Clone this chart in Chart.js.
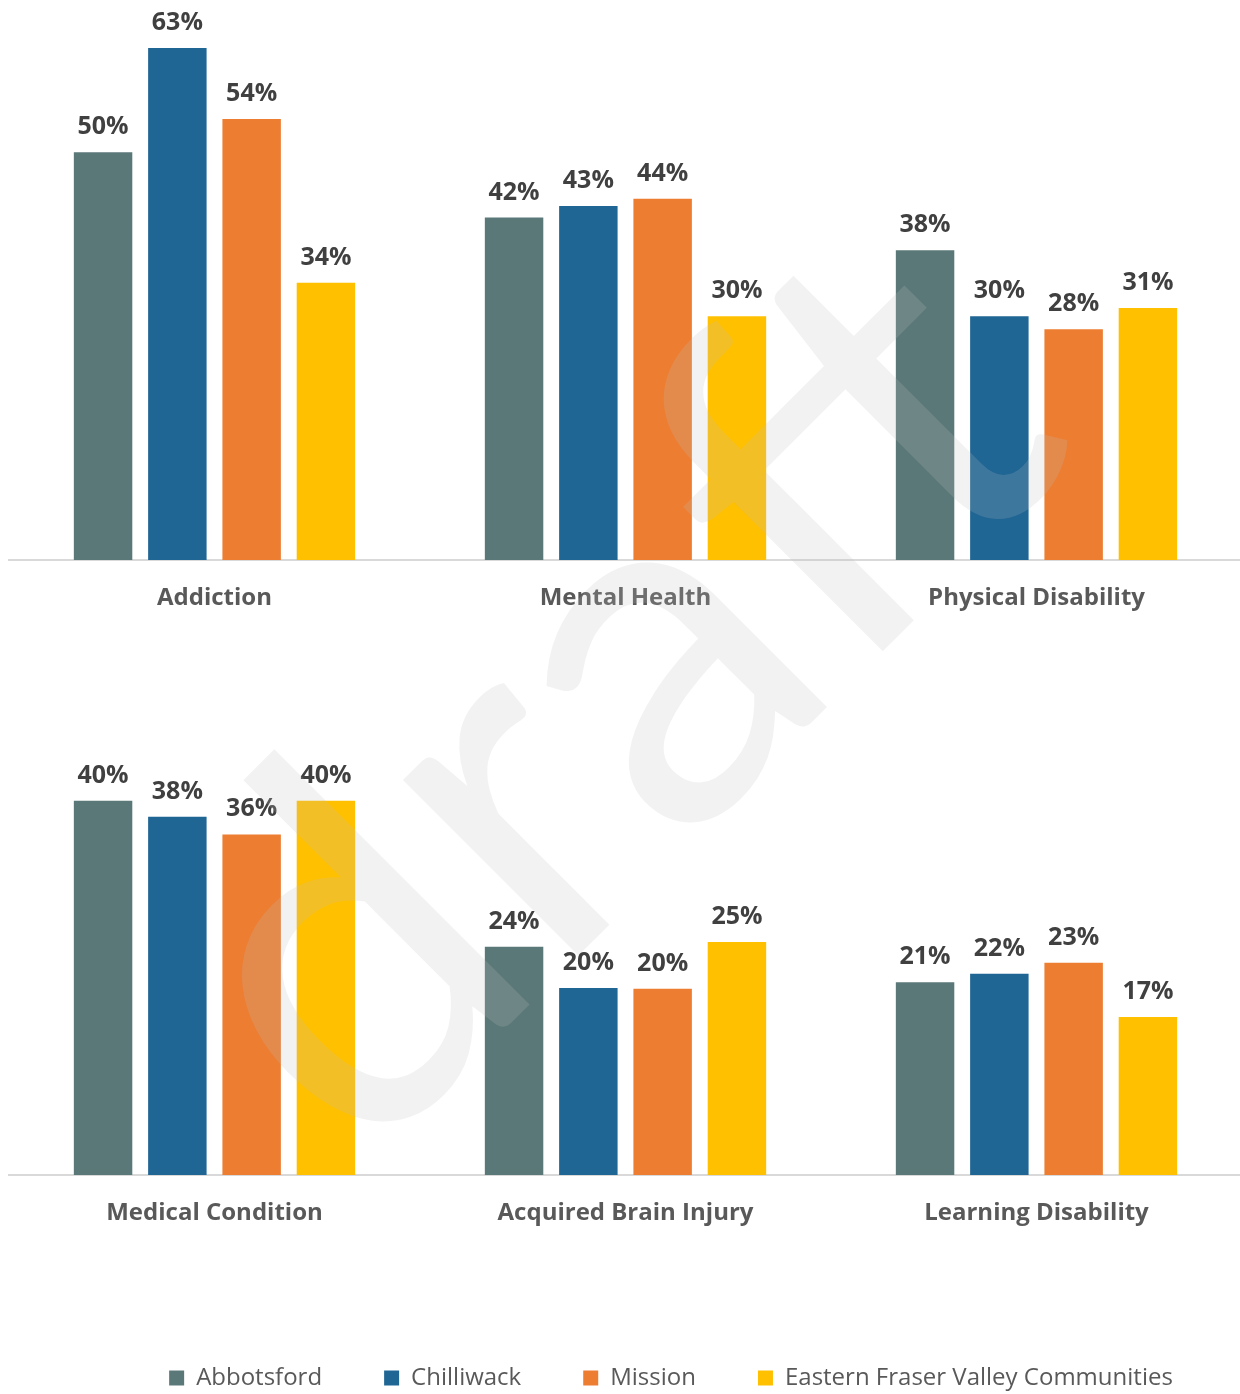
<!DOCTYPE html>
<html><head><meta charset="utf-8">
<script src="https://cdn.jsdelivr.net/npm/chart.js@4.4.1/dist/chart.umd.min.js"></script>
<style>
html,body{margin:0;padding:0;background:#fff;overflow:hidden;width:1240px;height:1394px;}
#top{position:absolute;left:0;top:0;width:1250px;height:640px;}
#bot{position:absolute;left:0;top:650px;width:1340px;height:750px;}
#wm{position:absolute;left:0;top:0;pointer-events:none;}
</style></head><body>
<div id="top"><canvas id="c1"></canvas></div>
<div id="bot"><canvas id="c2"></canvas></div>
<canvas id="wm" width="1240" height="1394"></canvas>
<script>
const seriesNames = ['Abbotsford', 'Chilliwack', 'Mission', 'Eastern Fraser Valley Communities'];
const topCategories = ['Addiction', 'Mental Health', 'Physical Disability'];
const bottomCategories = ['Medical Condition', 'Acquired Brain Injury', 'Learning Disability'];
const abbotsfordTop = [50.0, 42.0, 38.0];
const chilliwackTop = [62.8, 43.4, 29.9];
const missionTop = [54.1, 44.3, 28.3];
const efvTop = [34.0, 29.9, 30.9];
const abbotsfordBottom = [40.0, 24.4, 20.6];
const chilliwackBottom = [38.3, 20.0, 21.5];
const missionBottom = [36.4, 19.9, 22.7];
const efvBottom = [40.0, 24.9, 16.9];
const seriesColors = ['#5B7878', '#1F6695', '#ED7D31', '#FFC000'];
const watermarkText = 'draft';

const FONT = '"Open Sans", "Noto Sans", sans-serif';
Chart.defaults.font.family = FONT;

const valueLabels = {
  id: 'valueLabels',
  afterDatasetsDraw(chart) {
    const ctx = chart.ctx;
    ctx.save();
    ctx.font = 'bold 25px ' + FONT;
    ctx.fillStyle = '#404040';
    ctx.textAlign = 'center';
    ctx.textBaseline = 'alphabetic';
    chart.data.datasets.forEach((ds, i) => {
      const meta = chart.getDatasetMeta(i);
      meta.data.forEach((el, j) => {
        ctx.fillText(Math.round(ds.data[j]) + '%', el.x, el.y - 18);
      });
    });
    ctx.restore();
  }
};

function makeDatasets(arrs) {
  return arrs.map((d, i) => ({
    label: seriesNames[i],
    data: d,
    backgroundColor: seriesColors[i],
    borderWidth: 0,
    categoryPercentage: 0.723,
    barPercentage: 0.787
  }));
}

function xScale() {
  return {
    grid: { display: false, drawTicks: false },
    border: { display: true, color: '#D9D9D9', width: 2 },
    ticks: { color: '#595959', font: { size: 24, weight: 'bold' }, padding: 24, maxRotation: 0, autoSkip: false },
  };
}

new Chart(document.getElementById('c1'), {
  type: 'bar',
  data: { labels: topCategories, datasets: makeDatasets([abbotsfordTop, chilliwackTop, missionTop, efvTop]) },
  options: {
    responsive: true, maintainAspectRatio: false, animation: false,
    layout: { padding: { top: 30, left: 9, right: 8, bottom: 0 } },
    plugins: { legend: { display: false }, tooltip: { enabled: false } },
    scales: {
      x: Object.assign(xScale(), { afterFit(s) { s.height = 80; } }),
      y: { display: false, min: 0, max: 65 }
    }
  },
  plugins: [valueLabels]
});

new Chart(document.getElementById('c2'), {
  type: 'bar',
  data: { labels: bottomCategories, datasets: makeDatasets([abbotsfordBottom, chilliwackBottom, missionBottom, efvBottom]) },
  options: {
    responsive: true, maintainAspectRatio: false, animation: false,
    layout: { padding: { top: 104, left: 9, right: 7, bottom: 0 } },
    plugins: {
      tooltip: { enabled: false },
      legend: {
        position: 'bottom',
        labels: { color: '#595959', font: { size: 24 }, boxWidth: 15, boxHeight: 15, padding: 62 }
      }
    },
    scales: {
      x: Object.assign(xScale(), { afterFit(s) { s.height = 129; } }),
      y: { display: false, min: 0, max: 45 },
      yR: {
        type: 'linear', position: 'right', display: true,
        grid: { display: false }, border: { display: false }, ticks: { display: false },
        afterFit(s) { s.width = 91; }
      }
    }
  },
  plugins: [valueLabels]
});

const w = document.getElementById('wm').getContext('2d');
w.save();
w.translate(722, 812);
w.rotate(-Math.PI / 4);
w.font = '490px Lato, "Open Sans", sans-serif';
w.fillStyle = 'rgba(188,188,188,0.2)';
w.textAlign = 'center';
w.textBaseline = 'alphabetic';
w.fillText(watermarkText, 0, 0);
w.restore();
</script>
</body></html>
